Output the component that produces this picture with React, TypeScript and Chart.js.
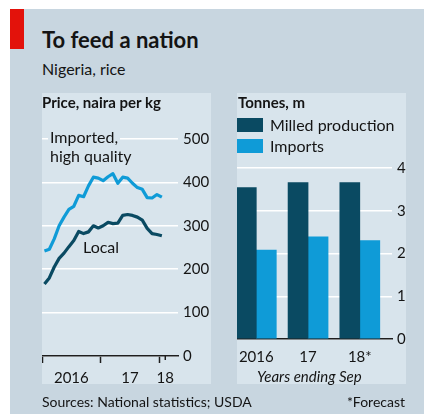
import React, { useEffect, useRef } from "react";
import { Chart, registerables } from "chart.js";

Chart.register(...registerables);

const FONT = "Lato, 'Noto Sans', sans-serif";
const OUTER_BG = "#c8d6e0";
const PANEL_BG = "#d8e4ec";
const DARK = "#0a4a62";
const LIGHT = "#0f9bd7";
const TEXT = "#141414";
const AXIS = "#1e1e1e";
const RED = "#e3120b";

// ---- Price chart data (naira per kg, monthly Jan 2016 - Jan 2018) ----
const priceMonths = [
  "Jan 2016", "Feb 2016", "Mar 2016", "Apr 2016", "May 2016", "Jun 2016",
  "Jul 2016", "Aug 2016", "Sep 2016", "Oct 2016", "Nov 2016", "Dec 2016",
  "Jan 2017", "Feb 2017", "Mar 2017", "Apr 2017", "May 2017", "Jun 2017",
  "Jul 2017", "Aug 2017", "Sep 2017", "Oct 2017", "Nov 2017", "Dec 2017",
  "Jan 2018",
];
const importedPrice = [
  242, 246, 270, 300, 320, 338, 345, 370, 367, 392, 412, 410,
  404, 413, 420, 398, 412, 410, 398, 388, 384, 365, 364, 372, 366,
];
const localPrice = [
  166, 180, 205, 225, 237, 252, 266, 287, 282, 286, 300, 295,
  300, 308, 305, 306, 324, 326, 324, 320, 313, 294, 282, 280, 277,
];
const priceYTicks = [0, 100, 200, 300, 400, 500];
const priceYearBoundaries = [0, 12, 24];
const priceYearLabelPos = [6, 18, 25.2];
const priceYearLabels = ["2016", "17", "18"];

// ---- Tonnes chart data (m, years ending Sep) ----
const tonnesYears = ["2016", "17", "18*"];
const milledProduction = [3.54, 3.66, 3.66];
const imports = [2.08, 2.39, 2.3];

function Txt(props: {
  x?: number;
  right?: number;
  baseline: number;
  size: number;
  weight?: number | string;
  italic?: boolean;
  bg?: string;
  pad?: number;
  children: React.ReactNode;
}) {
  const { x, right, baseline, size, weight, italic, bg, pad, children } = props;
  const style: React.CSSProperties = {
    position: "absolute",
    top: baseline - 0.887 * size,
    fontSize: size,
    lineHeight: `${size}px`,
    fontWeight: weight ?? 400,
    fontStyle: italic ? "italic" : "normal",
    whiteSpace: "nowrap",
    color: TEXT,
    fontFamily: FONT,
    background: bg,
    padding: pad ? `0 ${pad}px` : undefined,
  };
  if (x !== undefined) style.left = x - (pad ?? 0);
  if (right !== undefined) style.right = right;
  return <div style={style}>{children}</div>;
}

const noEdgePadding = (s: any) => {
  s.paddingLeft = 0;
  s.paddingRight = 0;
};

function PriceChart() {
  const ref = useRef<HTMLCanvasElement | null>(null);
  useEffect(() => {
    if (!ref.current) return;
    const shortTick = {
      id: "shortTick",
      afterDraw(chart: any) {
        const xs = chart.scales.x;
        const ctx = chart.ctx;
        const px = xs.getPixelForValue(priceYearLabelPos[2]);
        ctx.save();
        ctx.strokeStyle = AXIS;
        ctx.lineWidth = 1.5;
        ctx.beginPath();
        ctx.moveTo(px, chart.chartArea.bottom);
        ctx.lineTo(px, chart.chartArea.bottom + 4);
        ctx.stroke();
        ctx.restore();
      },
    };
    const chart = new Chart(ref.current, {
      type: "line",
      data: {
        datasets: [
          {
            label: "Imported, high quality",
            data: importedPrice.map((v, i) => ({ x: i + 0.5, y: v })),
            borderColor: LIGHT,
            borderWidth: 3.2,
            pointRadius: 0,
            tension: 0,
            borderJoinStyle: "round",
          },
          {
            label: "Local",
            data: localPrice.map((v, i) => ({ x: i + 0.5, y: v })),
            borderColor: DARK,
            borderWidth: 3.2,
            pointRadius: 0,
            tension: 0,
            borderJoinStyle: "round",
          },
        ],
      },
      options: {
        responsive: false,
        animation: false,
        layout: { padding: { top: 46, left: 0, right: 0, bottom: 0 } },
        plugins: { legend: { display: false }, tooltip: { enabled: false } },
        scales: {
          x: {
            type: "linear",
            min: 0,
            max: 27.8,
            offset: false,
            afterBuildTicks: (s: any) => {
              const vals = [...priceYearBoundaries, ...priceYearLabelPos].sort((a, b) => a - b);
              s.ticks = vals.map((v) => ({ value: v }));
            },
            afterFit: (s: any) => {
              s.height = 28;
              noEdgePadding(s);
            },
            ticks: {
              autoSkip: false,
              maxRotation: 0,
              minRotation: 0,
              padding: 6,
              color: TEXT,
              font: { family: FONT, size: 15 },
              callback: (v: any) => {
                const k = priceYearLabelPos.indexOf(Number(v));
                return k >= 0 ? priceYearLabels[k] : "";
              },
            },
            grid: {
              drawOnChartArea: false,
              drawTicks: true,
              tickLength: 7,
              tickWidth: 1.5,
              tickColor: (c: any) =>
                c.tick && priceYearBoundaries.includes(c.tick.value) ? AXIS : "rgba(0,0,0,0)",
            },
            border: { display: true, color: AXIS, width: 1.5 },
          },
          y: {
            position: "right",
            min: 0,
            max: 500,
            afterBuildTicks: (s: any) => {
              s.ticks = priceYTicks.map((v) => ({ value: v }));
            },
            afterFit: (s: any) => {
              s.width = 33;
            },
            ticks: {
              padding: 5,
              color: TEXT,
              font: { family: FONT, size: 15 },
            },
            grid: { color: "#ffffff", lineWidth: 1.5, drawTicks: false },
            border: { display: false },
          },
        },
      },
      plugins: [shortTick],
    } as any);
    return () => chart.destroy();
  }, []);
  return (
    <canvas
      ref={ref}
      width={169}
      height={291}
      style={{ position: "absolute", left: 42, top: 93, width: 169, height: 291 }}
    />
  );
}

function TonnesChart() {
  const ref = useRef<HTMLCanvasElement | null>(null);
  useEffect(() => {
    if (!ref.current) return;
    const chart = new Chart(ref.current, {
      type: "bar",
      data: {
        datasets: [
          {
            label: "Milled production",
            data: milledProduction.map((v, i) => ({ x: i, y: v })),
            backgroundColor: DARK,
            barThickness: 20,
          },
          {
            label: "Imports",
            data: imports.map((v, i) => ({ x: i, y: v })),
            backgroundColor: LIGHT,
            barThickness: 20,
          },
        ],
      },
      options: {
        responsive: false,
        animation: false,
        layout: { padding: { top: 75, left: 0, right: 0, bottom: 0 } },
        plugins: { legend: { display: false }, tooltip: { enabled: false } },
        scales: {
          x: {
            type: "linear",
            min: -0.373,
            max: 2.622,
            offset: false,
            afterBuildTicks: (s: any) => {
              s.ticks = tonnesYears.map((_, i) => ({ value: i }));
            },
            afterFit: (s: any) => {
              s.height = 45;
              noEdgePadding(s);
            },
            ticks: {
              autoSkip: false,
              maxRotation: 0,
              minRotation: 0,
              padding: 9,
              color: TEXT,
              font: { family: FONT, size: 15 },
              callback: (v: any) => tonnesYears[Number(v)] ?? "",
            },
            grid: { display: false, offset: false, drawTicks: false },
            border: { display: true, color: AXIS, width: 1.5 },
          },
          y: {
            position: "right",
            min: 0,
            max: 4,
            afterBuildTicks: (s: any) => {
              s.ticks = [0, 1, 2, 3, 4].map((v) => ({ value: v }));
            },
            afterFit: (s: any) => {
              s.width = 14;
            },
            ticks: {
              padding: 5,
              color: TEXT,
              font: { family: FONT, size: 15 },
            },
            grid: { color: "#ffffff", lineWidth: 1.5, drawTicks: false },
            border: { display: false },
          },
        },
      },
    } as any);
    return () => chart.destroy();
  }, []);
  return (
    <canvas
      ref={ref}
      width={169}
      height={291}
      style={{ position: "absolute", left: 237, top: 93, width: 169, height: 291 }}
    />
  );
}

export default function App() {
  return (
    <div
      style={{
        position: "absolute",
        left: 0,
        top: 0,
        width: 424,
        height: 414,
        background: "#ffffff",
        fontFamily: FONT,
        overflow: "hidden",
      }}
    >
      <div style={{ position: "absolute", left: 10, top: 9, width: 414, height: 405, background: OUTER_BG }} />
      <div style={{ position: "absolute", left: 10, top: 9, width: 14, height: 40, background: RED }} />
      <Txt x={42} baseline={49} size={22} weight={700}>To feed a nation</Txt>
      <Txt x={42} baseline={75} size={16}>Nigeria, rice</Txt>

      <div style={{ position: "absolute", left: 42, top: 93, width: 169, height: 291, background: PANEL_BG }} />
      <div style={{ position: "absolute", left: 237, top: 93, width: 169, height: 291, background: PANEL_BG }} />

      <PriceChart />
      <TonnesChart />

      <Txt x={42} baseline={108} size={15} weight={700}>Price, naira per kg</Txt>
      <Txt x={238} baseline={108} size={15} weight={700}>Tonnes, m</Txt>

      <Txt x={50} baseline={143} size={16} bg={PANEL_BG} pad={2}>Imported,</Txt>
      <Txt x={50} baseline={162} size={16}>high quality</Txt>
      <Txt x={83} baseline={253} size={16}>Local</Txt>

      <div style={{ position: "absolute", left: 237, top: 118, width: 26, height: 14, background: DARK }} />
      <div style={{ position: "absolute", left: 237, top: 139, width: 26, height: 14, background: LIGHT }} />
      <Txt x={270} baseline={131.5} size={16}>Milled production</Txt>
      <Txt x={270} baseline={152} size={16}>Imports</Txt>

      <Txt x={257} baseline={382} size={15} italic>Years ending Sep</Txt>

      <Txt x={42} baseline={407} size={14}>Sources: National statistics; USDA</Txt>
      <Txt right={19} baseline={407} size={14}>*Forecast</Txt>
    </div>
  );
}
